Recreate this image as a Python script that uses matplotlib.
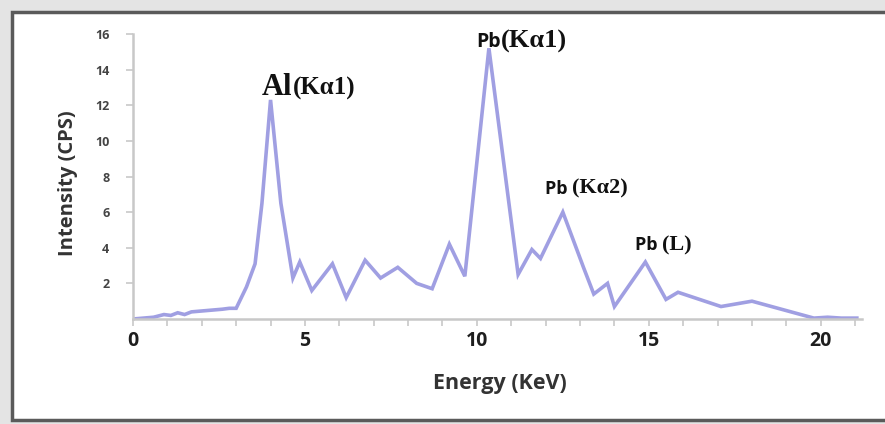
import matplotlib
matplotlib.use("Agg")
import matplotlib.pyplot as plt
from matplotlib.patches import Rectangle
from matplotlib.offsetbox import TextArea, HPacker, AnnotationBbox

# ---- data ----
energy = [0.0, 0.3, 0.6, 0.9, 1.1, 1.3, 1.5, 1.7, 2.0, 2.3, 2.6, 2.8, 3.0, 3.3, 3.55,
          3.75, 4.0, 4.3, 4.65, 4.85, 5.2, 5.8, 6.2, 6.75, 7.2, 7.7, 8.25, 8.7, 9.2,
          9.65, 10.35, 11.2, 11.6, 11.85, 12.5, 13.1, 13.4, 13.8, 14.0, 14.9, 15.5,
          15.85, 17.1, 18.0, 19.8, 20.2, 20.6, 21.05]
intensity = [0.0, 0.05, 0.1, 0.25, 0.2, 0.35, 0.25, 0.4, 0.45, 0.5, 0.55, 0.6, 0.6, 1.8, 3.1,
             6.5, 12.3, 6.5, 2.3, 3.2, 1.6, 3.1, 1.2, 3.3, 2.3, 2.9, 2.0, 1.7, 4.2,
             2.4, 15.2, 2.5, 3.9, 3.4, 6.0, 2.9, 1.4, 2.0, 0.7, 3.2, 1.1,
             1.5, 0.7, 1.0, 0.05, 0.1, 0.05, 0.05]

x_ticks = [0, 5, 10, 15, 20]
y_ticks = [2, 4, 6, 8, 10, 12, 14, 16]

# peak labels: (sans part, serif part, x, y)
peak_labels = [
    ("Al", "(Kα1)", 3.75, 13.0),
    ("Pb", "(Kα1)", 9.97, 15.6),
    ("Pb ", "(Kα2)", 11.98, 7.3),
    ("Pb ", "(L)", 14.6, 4.15),
]

W, H = 885, 424
fig = plt.figure(figsize=(W / 100, H / 100), dpi=100)
fig.patch.set_facecolor("#e4e4e4")

# framed white panel
fig.patches.append(Rectangle((12 / W, 4 / H), (W - 10) / W, (H - 16) / H,
                             transform=fig.transFigure, facecolor="white",
                             edgecolor="#5a5a5a", linewidth=2.5, zorder=-10))

ax = fig.add_axes([133 / W, 105 / H, (862 - 133) / W, (390 - 105) / H])
ax.set_zorder(5)
ax.set_facecolor("none")
ax.plot(energy, intensity, color="#a09fe2", linewidth=2.6, solid_joinstyle="miter")

ax.set_xlim(0, 21.2)
ax.set_ylim(0, 16)
for s in ["top", "right"]:
    ax.spines[s].set_visible(False)
for s in ["left", "bottom"]:
    ax.spines[s].set_color("#c8c8c8")
    ax.spines[s].set_linewidth(1.8)

ax.set_xticks(x_ticks)
ax.set_xticks(range(0, 22), minor=True)
ax.set_yticks(y_ticks)
ax.tick_params(axis="x", which="both", length=5, width=1.2, color="#c8c8c8", direction="out")
ax.tick_params(axis="x", which="major", labelsize=14, pad=4, labelcolor="#1e1e1e")
ax.tick_params(axis="y", length=5, width=1.2, color="#c8c8c8", labelsize=9,
               labelcolor="#444444", pad=12)
for lab in ax.get_xticklabels():
    lab.set_fontweight("bold")
    lab.set_fontfamily("Open Sans")
for lab in ax.get_yticklabels():
    lab.set_fontweight("bold")
    lab.set_fontfamily("Open Sans")

fig.text(68 / W, 1 - 183 / H, "Intensity (CPS)", rotation=90, ha="center", va="center",
         fontsize=14.5, fontweight="bold", family="Open Sans", color="#333333")
fig.text(500 / W, 1 - 383 / H, "Energy (KeV)", ha="center", va="center",
         fontsize=15.5, fontweight="bold", family="Open Sans", color="#333333")

for i, (a, b, x, y) in enumerate(peak_labels):
    if a == "Al":
        ta = TextArea(a, textprops=dict(family="Liberation Serif", fontweight="bold",
                                        fontsize=22, color="#111111"))
        tb = TextArea(b, textprops=dict(family="Liberation Serif", fontweight="bold",
                                        fontsize=18, color="#111111"))
    elif i == 1:
        ta = TextArea(a, textprops=dict(family="Open Sans", fontweight="bold",
                                        fontsize=14, color="#111111"))
        tb = TextArea(b, textprops=dict(family="Liberation Serif", fontweight="bold",
                                        fontsize=19, color="#111111"))
    else:
        ta = TextArea(a, textprops=dict(family="Open Sans", fontweight="bold",
                                        fontsize=13, color="#111111"))
        tb = TextArea(b, textprops=dict(family="Liberation Serif", fontweight="bold",
                                        fontsize=16, color="#111111"))
    box = HPacker(children=[ta, tb], align="baseline", pad=0, sep=0)
    ab = AnnotationBbox(box, (x, y), xycoords="data", box_alignment=(0, 0.5),
                        frameon=False, pad=0)
    ax.add_artist(ab)

fig.savefig("out.png", dpi=100, facecolor=fig.get_facecolor())
